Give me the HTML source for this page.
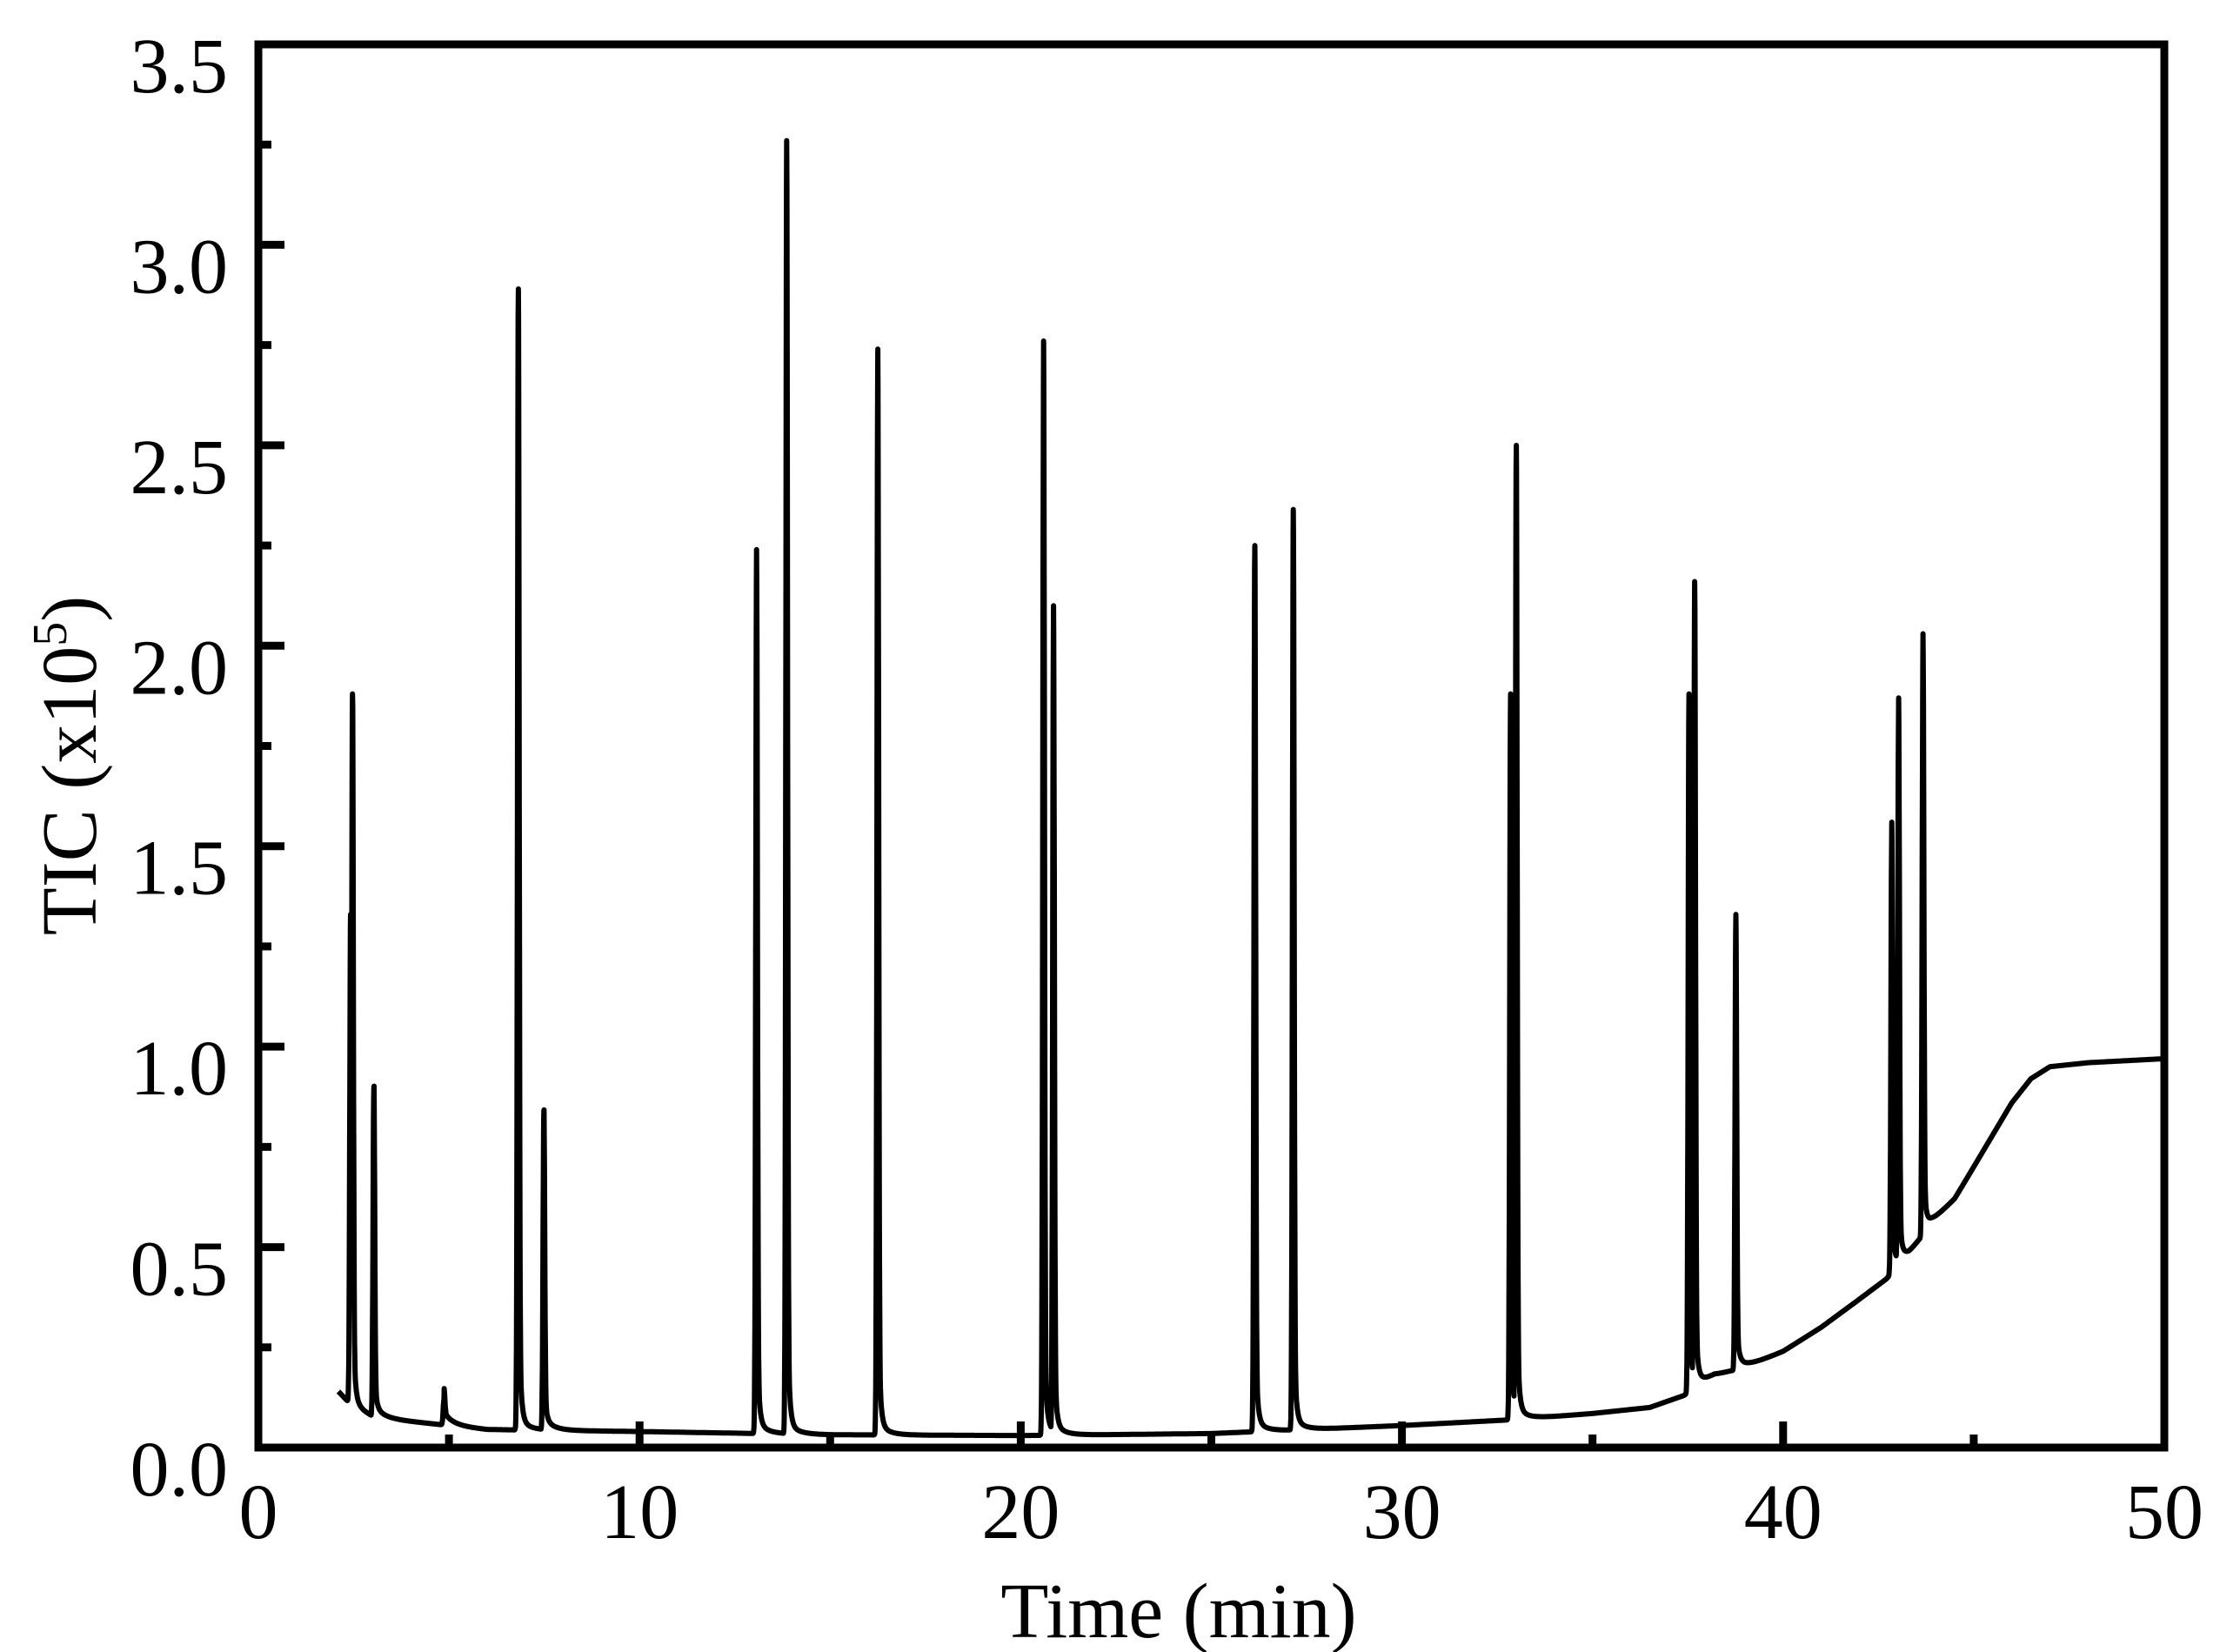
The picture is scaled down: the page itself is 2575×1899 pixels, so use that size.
<!DOCTYPE html>
<html><head><meta charset="utf-8"><style>
html,body{margin:0;padding:0;background:#fff;}
svg{display:block;}
text{font-family:"Liberation Serif","Times New Roman",serif;fill:#000;}
</style></head><body>
<svg id="chart" width="2575" height="1899" viewBox="0 0 2575 1899" xmlns="http://www.w3.org/2000/svg">
<g id="ticks"></g>
<g id="labels"></g>
<path id="trace" fill="none" stroke="#000" stroke-width="6" stroke-linejoin="round"></path>
<rect x="297" y="51" width="2191" height="1613" fill="none" stroke="#000" stroke-width="9"/>
<text x="1355" y="1882" font-size="90" text-anchor="middle">Time (min)</text>
<text transform="translate(110,880) rotate(-90)" font-size="90" text-anchor="middle">TIC (x10<tspan font-size="56" dy="-34">5</tspan><tspan dy="34">)</tspan></text>
</svg>
<script>
// x-axis ticks / labels
const xTicks = [0, 10, 20, 30, 40, 50];
const xMinor = [5, 15, 25, 35, 45];
const yTicks = [0.0, 0.5, 1.0, 1.5, 2.0, 2.5, 3.0, 3.5];
const yTickLabels = ["0.0", "0.5", "1.0", "1.5", "2.0", "2.5", "3.0", "3.5"];
const yMinor = [0.25, 0.75, 1.25, 1.75, 2.25, 2.75, 3.25];
// baseline (time, TIC x1e5)
const baseTimes = [2.1, 2.3, 2.6, 3.0, 4.0, 6.0, 10, 15, 20, 25, 30, 33, 35, 36.5, 37.4, 38.2, 39, 40, 41, 42, 42.7, 43.3, 43.9, 44.1, 44.5, 45, 45.5, 46, 46.5, 47, 48, 50];
const baseValues = [0.14, 0.12, 0.09, 0.075, 0.065, 0.045, 0.04, 0.032, 0.03, 0.035, 0.055, 0.07, 0.085, 0.1, 0.13, 0.18, 0.2, 0.24, 0.3, 0.37, 0.42, 0.48, 0.56, 0.58, 0.62, 0.7, 0.78, 0.86, 0.92, 0.95, 0.96, 0.97];
// peaks
const peakTimes = [2.42, 2.47, 3.03, 4.87, 6.82, 7.49, 13.07, 13.86, 16.25, 20.6, 20.86, 26.14, 27.15, 32.85, 33.0, 37.53, 37.68, 38.76, 42.85, 43.03, 43.67];
const peakHeights = [1.33, 1.88, 0.90, 0.12, 2.89, 0.84, 2.21, 3.23, 2.71, 2.73, 2.07, 2.25, 2.34, 1.88, 2.50, 1.85, 2.13, 1.30, 1.53, 1.84, 2.00];

const X0 = 297, X1 = 2488, Y0 = 1664, Y1 = 51;
const xScale = t => X0 + (t - 0) / 50 * (X1 - X0);
const yScale = v => Y0 - v / 3.5 * (Y0 - Y1);
const NS = "http://www.w3.org/2000/svg";

function baseAt(t) {
  if (t <= baseTimes[0]) return baseValues[0];
  for (let i = 1; i < baseTimes.length; i++) {
    if (t <= baseTimes[i]) {
      const f = (t - baseTimes[i-1]) / (baseTimes[i] - baseTimes[i-1]);
      return baseValues[i-1] + f * (baseValues[i] - baseValues[i-1]);
    }
  }
  return baseValues[baseValues.length - 1];
}
function signalAt(t) {
  const b = baseAt(t);
  let m = 0;
  for (let i = 0; i < peakTimes.length; i++) {
    const d = t - peakTimes[i];
    const top = peakHeights[i] - b;
    const s = 0.022;
    let c;
    if (d < 0) c = top * Math.exp(-d * d / (2 * s * s));
    else c = top * (0.88 * Math.exp(-d * d / (2 * s * s)) + 0.12 * Math.exp(-d / 0.05)) + 0.03 * Math.exp(-d / 0.25);
    if (c > m) m = c;
  }
  return b + m;
}
let d = "";
for (let t = 2.1; t <= 50.001; t += 0.005) {
  d += (d ? "L" : "M") + xScale(t).toFixed(1) + "," + yScale(signalAt(t)).toFixed(1);
}
document.getElementById("trace").setAttribute("d", d);

const tg = document.getElementById("ticks");
const lg = document.getElementById("labels");
function line(x1, y1, x2, y2, name) {
  const l = document.createElementNS(NS, "line");
  l.setAttribute("x1", x1); l.setAttribute("y1", y1);
  l.setAttribute("x2", x2); l.setAttribute("y2", y2);
  l.setAttribute("stroke", "#000"); l.setAttribute("stroke-width", "9");
  
  
  tg.appendChild(l);
}
yTicks.forEach((v, i) => {
  const y = yScale(v);
  line(X0, y, X0 + 30, y, "y-major-tick");
  const tx = document.createElementNS(NS, "text");
  tx.setAttribute("x", 262); tx.setAttribute("y", y + 55);
  tx.setAttribute("font-size", "90"); tx.setAttribute("text-anchor", "end");
  tx.textContent = yTickLabels[i];
  
  
  lg.appendChild(tx);
});
yMinor.forEach(v => { const y = yScale(v); line(X0, y, X0 + 15, y, "y-minor-tick"); });
xTicks.forEach(t => {
  const x = xScale(t);
  line(x, Y0, x, Y0 - 30, "x-major-tick");
  const tx = document.createElementNS(NS, "text");
  tx.setAttribute("x", x); tx.setAttribute("y", 1768);
  tx.setAttribute("font-size", "90"); tx.setAttribute("text-anchor", "middle");
  tx.textContent = String(t);
  
  
  lg.appendChild(tx);
});
xMinor.forEach(t => { const x = xScale(t); line(x, Y0, x, Y0 - 15, "x-minor-tick"); });
</script>
</body></html>
